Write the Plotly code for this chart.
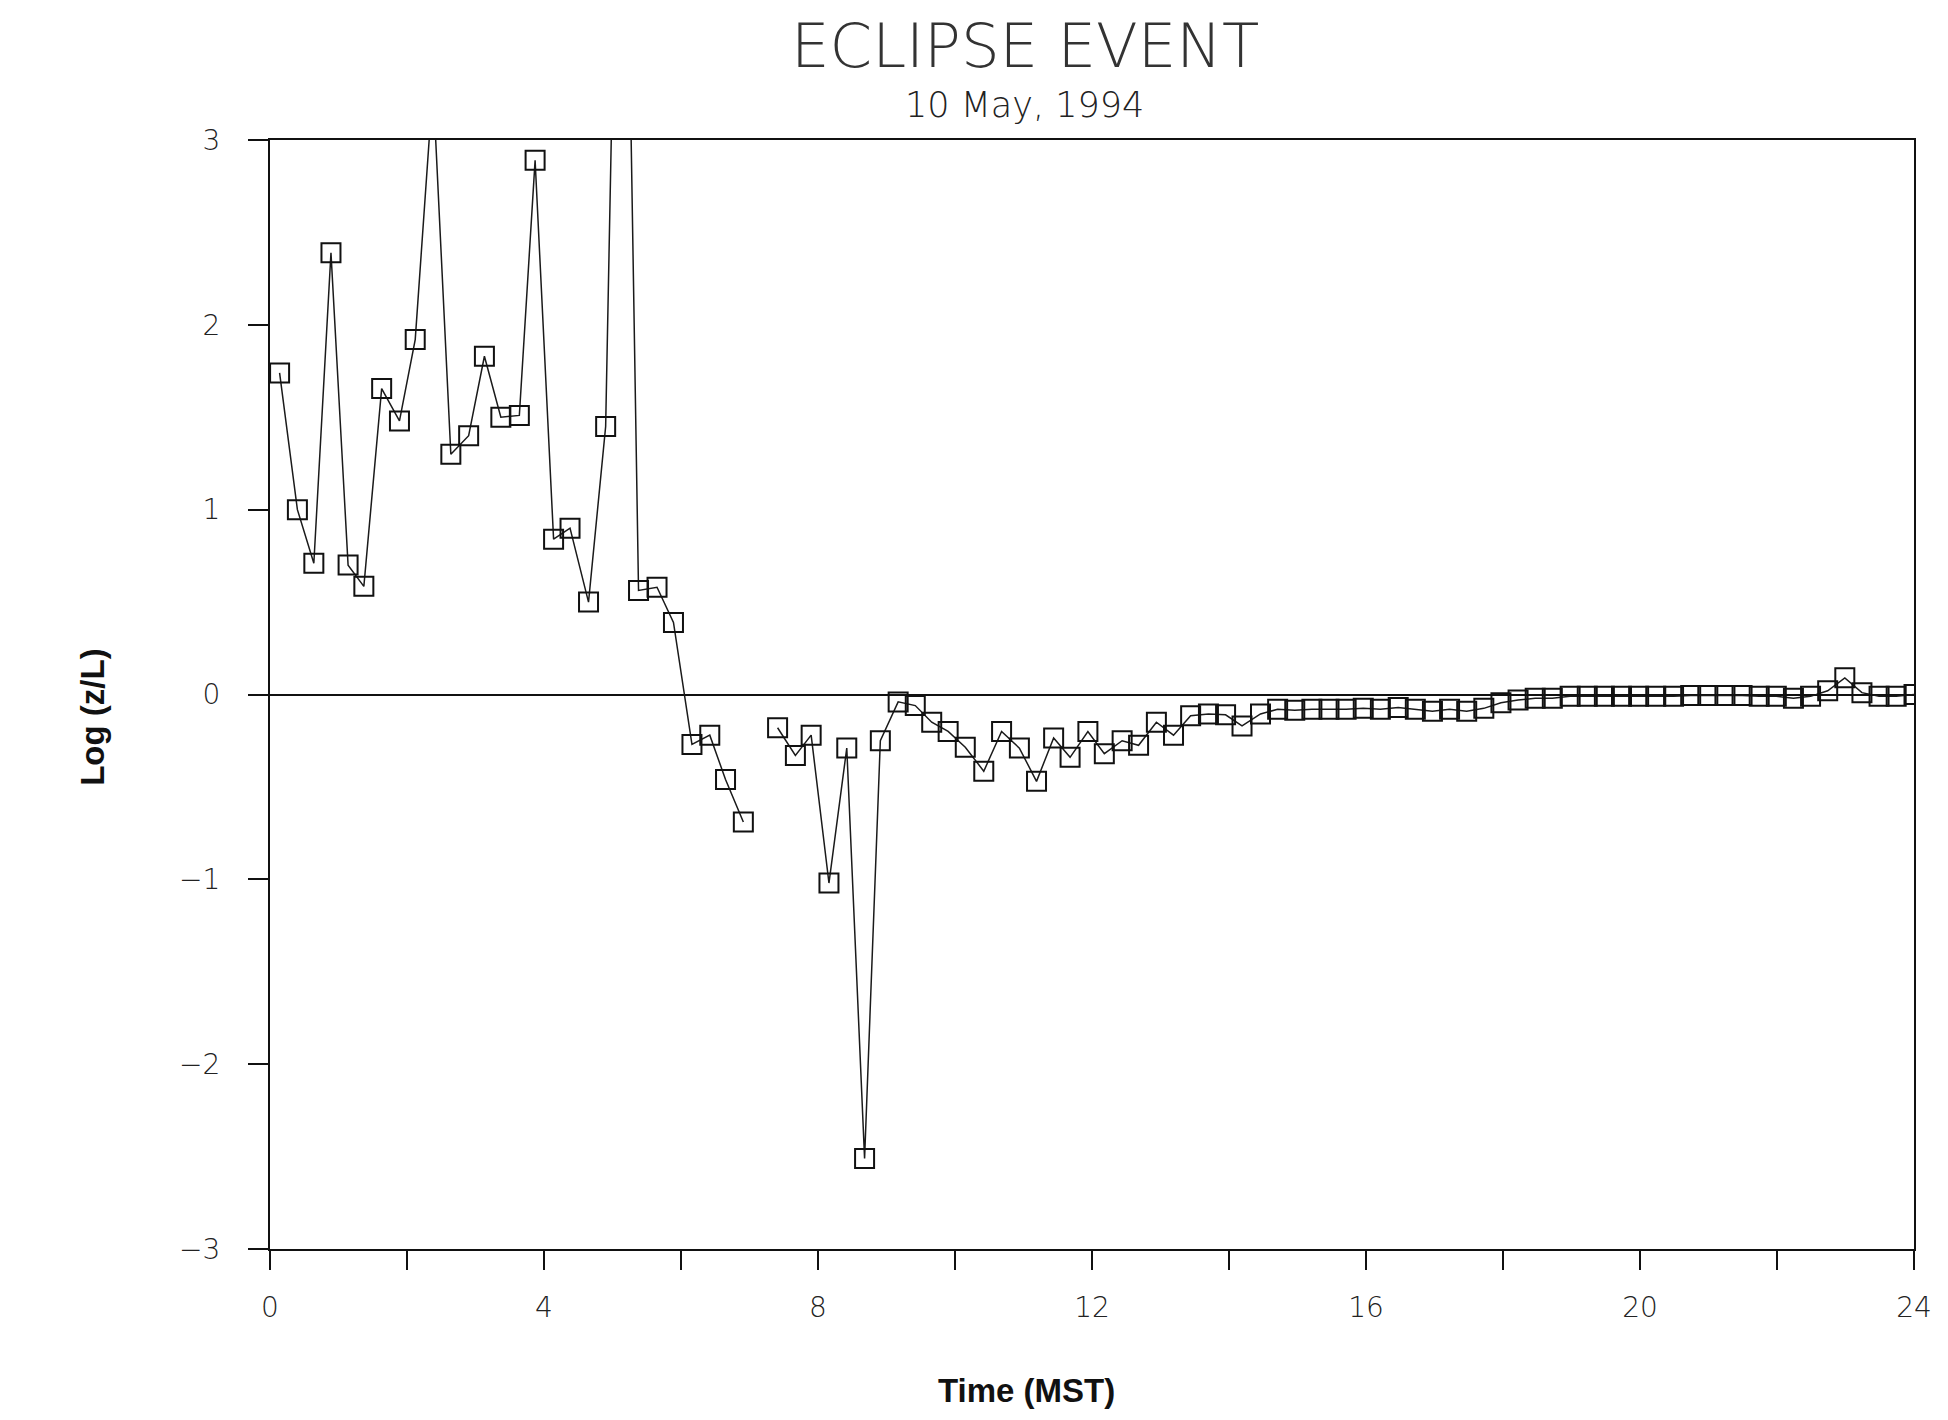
import plotly.graph_objects as go

# Time (MST, hours) and Log(z/L) values
time_mst = [
    0.14, 0.40, 0.64, 0.89, 1.14, 1.37, 1.63, 1.89, 2.12, 2.38,
    2.64, 2.90, 3.13, 3.37, 3.64, 3.87, 4.14, 4.38, 4.65, 4.90,
    5.14, 5.38, 5.65, 5.89, 6.16, 6.42, 6.65, 6.91, 7.16, 7.41,
    7.67, 7.90, 8.16, 8.42, 8.68, 8.91, 9.17, 9.42, 9.66, 9.90,
    10.15, 10.42, 10.68, 10.94, 11.19, 11.44, 11.68, 11.94, 12.18, 12.44,
    12.68, 12.94, 13.19, 13.44, 13.70, 13.95, 14.19, 14.46, 14.71, 14.96,
    15.21, 15.46, 15.71, 15.96, 16.21, 16.47, 16.72, 16.97, 17.22, 17.47,
    17.72, 17.97, 18.22, 18.47, 18.72, 18.98, 19.23, 19.48, 19.73, 19.98,
    20.23, 20.49, 20.74, 20.99, 21.24, 21.49, 21.74, 21.99, 22.24, 22.49,
    22.74, 22.99, 23.24, 23.49, 23.74, 24.00,
]
log_zl = [
    1.74, 1.00, 0.71, 2.39, 0.70, 0.585, 1.655, 1.48, 1.92, 3.3,
    1.30, 1.40, 1.83, 1.50, 1.51, 2.89, 0.84, 0.90, 0.50, 1.45,
    6.0, 0.563, 0.58, 0.39, -0.27, -0.22, -0.46, -0.69, None, -0.18,
    -0.33, -0.22, -1.02, -0.29, -2.51, -0.25, -0.04, -0.06, -0.15, -0.20,
    -0.285, -0.415, -0.20, -0.29, -0.47, -0.235, -0.34, -0.20, -0.32, -0.25,
    -0.275, -0.15, -0.22, -0.115, -0.105, -0.11, -0.17, -0.105, -0.08, -0.085,
    -0.08, -0.08, -0.08, -0.075, -0.08, -0.07, -0.08, -0.09, -0.08, -0.09,
    -0.075, -0.045, -0.03, -0.02, -0.02, -0.01, -0.01, -0.01, -0.01, -0.01,
    -0.01, -0.01, -0.005, -0.005, -0.005, -0.005, -0.01, -0.01, -0.02, -0.01,
    0.02, 0.09, 0.01, -0.01, -0.01, 0.00,
]

x_tickvals = [0, 4, 8, 12, 16, 20, 24]
y_tickvals = [-3, -2, -1, 0, 1, 2, 3]

title_text = "ECLIPSE EVENT"
subtitle_text = "10 May, 1994"
x_title = "Time (MST)"
y_title = "Log (z/L)"

fig = go.Figure()
fig.add_trace(go.Scatter(
    x=time_mst, y=log_zl,
    mode="lines+markers",
    connectgaps=False,
    line=dict(color="#1a1a1a", width=1.5),
    marker=dict(symbol="square-open", size=19, color="#111111",
                line=dict(color="#111111", width=2)),
    showlegend=False,
))

tick_font = dict(family="DejaVu Sans", size=28, color="#222222", weight=300)

fig.update_layout(
    width=1948, height=1420,
    paper_bgcolor="white", plot_bgcolor="white",
    margin=dict(l=262, r=42, t=132, b=179),
    xaxis=dict(
        range=[0, 24], tickvals=x_tickvals, ticktext=[str(v) for v in x_tickvals],
        ticks="outside", ticklen=19, tickwidth=1.5, tickcolor="#111",
        minor=dict(dtick=2, tick0=0, ticks="outside", ticklen=19, tickwidth=1.5,
                   tickcolor="#111", showgrid=False),
        showline=True, linecolor="#111", linewidth=1.5, mirror=True,
        showgrid=False, zeroline=False,
        tickfont=tick_font, ticklabelstandoff=14,
    ),
    yaxis=dict(
        range=[-3, 3], tickvals=y_tickvals,
        ticks="outside", ticklen=20, tickwidth=1.5, tickcolor="#111",
        showline=True, linecolor="#111", linewidth=2, mirror=True,
        showgrid=False, zeroline=True, zerolinecolor="#111", zerolinewidth=1.5,
        tickfont=tick_font, ticklabelstandoff=22,
    ),
    annotations=[
        dict(text=title_text, xref="paper", yref="paper", x=0.459, y=1,
             yanchor="middle", yshift=95, showarrow=False,
             font=dict(family="DejaVu Sans", size=61, color="#333333", weight=200)),
        dict(text=subtitle_text, xref="paper", yref="paper", x=0.459, y=1,
             yanchor="middle", yshift=35, showarrow=False,
             font=dict(family="DejaVu Sans", size=35, color="#222222", weight=300)),
        dict(text=x_title, xref="paper", yref="paper", x=0.46, y=0,
             yanchor="middle", yshift=-141, showarrow=False,
             font=dict(family="Liberation Sans, Arial", size=33, color="#111111", weight="bold")),
        dict(text=y_title, xref="paper", yref="paper", x=0, y=0.479,
             xanchor="center", xshift=-177, textangle=-90, showarrow=False,
             font=dict(family="Liberation Sans, Arial", size=33, color="#111111", weight="bold")),
    ],
)

fig.write_html("out.html")
